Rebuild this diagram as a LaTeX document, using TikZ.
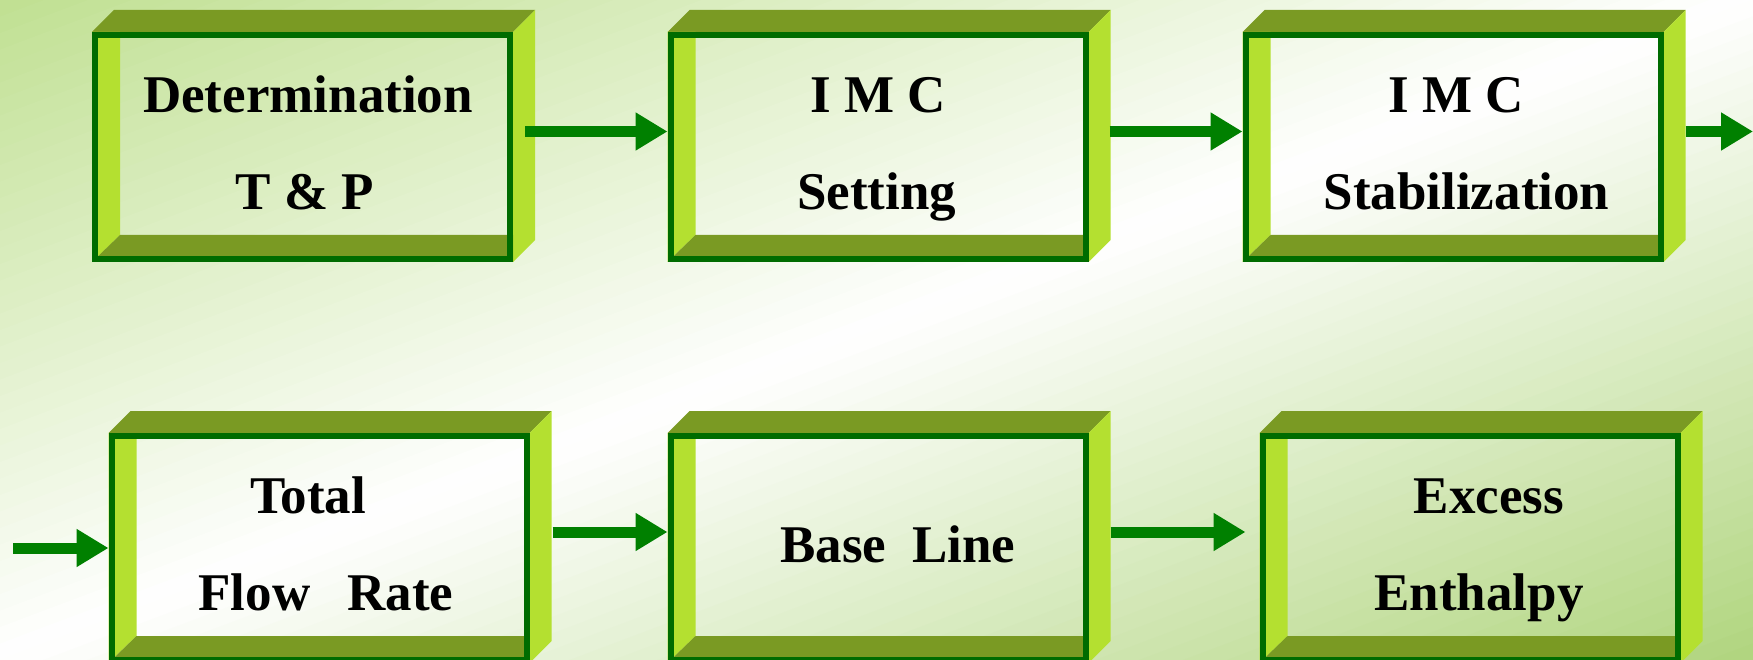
\documentclass[tikz,border=0pt]{standalone}
\usepackage{fontspec}
\setmainfont{Liberation Serif}
\usetikzlibrary{arrows.meta}
\definecolor{olivef}{RGB}{122,154,35}
\definecolor{limef}{RGB}{180,224,48}
\definecolor{borderg}{RGB}{0,108,0}
\definecolor{arrowg}{RGB}{0,128,0}
\definecolor{bgtl}{RGB}{192,224,146}
\definecolor{bgbr}{RGB}{176,213,126}
\tikzset{
  boxfront/.style={rectangle, minimum width=421pt, minimum height=230pt, inner sep=0pt, outer sep=0pt},
  boxlabel/.style={anchor=base, inner sep=0pt, outer sep=0pt, font=\fontsize{53}{60}\selectfont\bfseries},
  flow/.style={draw=arrowg, line width=11pt, -{Triangle[length=32pt,width=36pt]}},
  frameline/.style={draw=borderg, line width=6pt},
}
\newcommand\threedbox[3]{%
  \node[boxfront] (#1) at (#2,#3) {};
  \fill[olivef] (#1.north west) -- ++(22,-22) -- ([shift={(22,-22)}]#1.north east) -- (#1.north east) -- cycle;
  \fill[limef] (#1.north east) -- ++(22,-22) -- ([shift={(22,-22)}]#1.south east) -- (#1.south east) -- cycle;
  \fill[limef] (#1.north west) -- ++(28,0) -- ([shift={(28,-27)}]#1.south west) -- (#1.south west) -- cycle;
  \fill[olivef] (#1.south west) -- ++(28,-27) -- ([shift={(0,-27)}]#1.south east) -- (#1.south east) -- cycle;
  \draw[frameline] ([shift={(3,3)}]#1.north west) rectangle ([shift={(-3,-3)}]#1.south east);
}
\begin{document}
\begin{tikzpicture}[x=1pt,y=-1pt]
\useasboundingbox (0,0) rectangle (1753,660);
% background gradient
\begin{scope}
  \clip (0,0) rectangle (1753,660);
  \fill[white] (0,0) rectangle (1753,660);
  \foreach \i in {0,...,39} {
    \pgfmathsetmacro\sa{\i/40}
    \pgfmathsetmacro\sb{(\i+1.4)/40}
    \pgfmathsetmacro\m{100*(1-(\i+0.5)/40)}
    \colorlet{bandc}{bgtl!\m!white}
    \fill[bandc] ({1753*\sa-3506},1320) -- ({1753*\sa+3506},-1320) -- ({1753*\sb+3506},-1320) -- ({1753*\sb-3506},1320) -- cycle;
  }
  \foreach \i in {40,...,79} {
    \pgfmathsetmacro\sa{\i/40}
    \pgfmathsetmacro\sb{(\i+1.4)/40}
    \pgfmathsetmacro\m{100*((\i+0.5)/40-1)}
    \colorlet{bandc}{bgbr!\m!white}
    \fill[bandc] ({1753*\sa-3506},1320) -- ({1753*\sa+3506},-1320) -- ({1753*\sb+3506},-1320) -- ({1753*\sb-3506},1320) -- cycle;
  }
\end{scope}
% boxes
\threedbox{b1}{302.5}{147}
\threedbox{b2}{878}{147}
\threedbox{b3}{1453}{147}
\threedbox{b4}{319}{548}
\threedbox{b5}{878}{548}
\threedbox{b6}{1470}{548}
% labels
\node[boxlabel] (t1a) at (308,113) {Determination};
\node[boxlabel] (t1b) at (305,210) {T \& P};
\node[boxlabel] (t2a) at (878,113) {I M C};
\node[boxlabel] (t2b) at (876.5,210) {Setting};
\node[boxlabel] (t3a) at (1456,113) {I M C};
\node[boxlabel] (t3b) at (1466.5,210) {Stabilization};
\node[boxlabel] (t4a) at (308,513) {Total};
\node[boxlabel] (t4b) at (326,610) {Flow\hspace{37pt}Rate};
\node[boxlabel] (t5a) at (898,562) {Base\hspace{26pt}Line};
\node[boxlabel] (t6a) at (1489,513) {Excess};
\node[boxlabel] (t6b) at (1479,610) {Enthalpy};
% connectors
\coordinate (exitpt) at (1753,131.5);
\coordinate (entrypt) at (13,548);
\draw[flow] ([xshift=12pt,yshift=15.5pt]b1.east) -- ([yshift=15.5pt]b2.west);
\draw[flow] ([xshift=21pt,yshift=15.5pt]b2.east) -- ([yshift=15.5pt]b3.west);
\draw[flow] ([xshift=22pt,yshift=15.5pt]b3.east) -- (exitpt);
\draw[flow] (entrypt) -- (b4.west);
\draw[flow] ([xshift=23pt,yshift=16pt]b4.east) -- ([yshift=16pt]b5.west);
\draw[flow] ([xshift=22pt,yshift=16pt]b5.east) -- ([xshift=-14pt,yshift=16pt]b6.west);
\end{tikzpicture}
\end{document}
